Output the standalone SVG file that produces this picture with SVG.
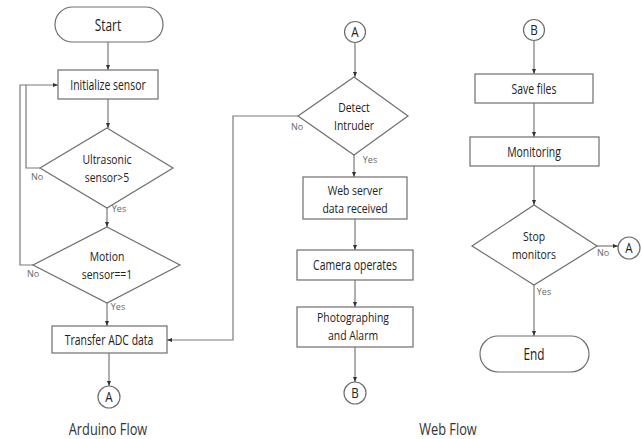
<svg xmlns="http://www.w3.org/2000/svg" width="642" height="439" viewBox="0 0 642 439">
  <style>
    .shape { fill: #ffffff; stroke: #6e6e6e; stroke-width: 1.2; }
    .wire { fill: none; stroke: #7a7a7a; stroke-width: 1.2; }
    .t { font-family: "Open Sans", "Noto Sans", sans-serif; font-size: 14.5px; fill: #222; text-anchor: middle; }
    .t2 { font-family: "Open Sans", "Noto Sans", sans-serif; font-size: 13.5px; fill: #222; text-anchor: middle; }
    .big { font-size: 16px; }
    .small { font-family: "Open Sans", "Noto Sans", sans-serif; font-size: 9px; fill: #666; text-anchor: middle; }
    .cap { font-family: "Open Sans", "Noto Sans", sans-serif; font-size: 16px; fill: #333; text-anchor: middle; }
  </style>
  <defs>
    <marker id="arrow" viewBox="0 0 10 10" refX="10" refY="5" markerWidth="5" markerHeight="5" orient="auto" markerUnits="userSpaceOnUse">
      <path d="M0 1 L10 5 L0 9 Z" fill="#333"/>
    </marker>
  </defs>
  <rect width="642" height="439" fill="#ffffff"/>

  <!-- connectors -->
  <g id="connectors">
    <path class="wire" d="M108 42 V70" marker-end="url(#arrow)"/>
    <path class="wire" d="M108 99 V128" marker-end="url(#arrow)"/>
    <path class="wire" d="M40 168 H26 V85 H58" marker-end="url(#arrow)"/>
    <path class="wire" d="M107 208 V227" marker-end="url(#arrow)"/>
    <path class="wire" d="M33 265 H20 V85 H26"/>
    <path class="wire" d="M107 303 V326" marker-end="url(#arrow)"/>
    <path class="wire" d="M109 353 V386" marker-end="url(#arrow)"/>
    <path class="wire" d="M355 43 V77" marker-end="url(#arrow)"/>
    <path class="wire" d="M298 116 H233 V340 H167" marker-end="url(#arrow)"/>
    <path class="wire" d="M354 155 V177" marker-end="url(#arrow)"/>
    <path class="wire" d="M355 219 V250" marker-end="url(#arrow)"/>
    <path class="wire" d="M355 280 V307" marker-end="url(#arrow)"/>
    <path class="wire" d="M355 347 V382" marker-end="url(#arrow)"/>
    <path class="wire" d="M534 41 V74" marker-end="url(#arrow)"/>
    <path class="wire" d="M534 103 V137" marker-end="url(#arrow)"/>
    <path class="wire" d="M534 166 V205" marker-end="url(#arrow)"/>
    <path class="wire" d="M597 246 H618" marker-end="url(#arrow)"/>
    <path class="wire" d="M534 285 V336" marker-end="url(#arrow)"/>
    <text class="small" x="37" y="180">No</text>
    <text class="small" x="119" y="212">Yes</text>
    <text class="small" x="33" y="277">No</text>
    <text class="small" x="118" y="310">Yes</text>
    <text class="small" x="297" y="130">No</text>
    <text class="small" x="370" y="163">Yes</text>
    <text class="small" x="603" y="256">No</text>
    <text class="small" x="544" y="295">Yes</text>
  </g>

  <!-- Arduino flow -->
  <g id="start">
    <rect class="shape" x="55" y="7" width="108" height="35" rx="17.5"/>
    <text class="t big" transform="translate(108 31) scale(0.74 1)">Start</text>
  </g>
  <g id="init-sensor">
    <rect class="shape" x="58" y="70" width="100" height="29"/>
    <text class="t" transform="translate(108 90) scale(0.72 1)">Initialize sensor</text>
  </g>
  <g id="ultrasonic">
    <polygon class="shape" points="107,128 173,168 107,208 40,168"/>
    <text class="t2" transform="translate(107 164) scale(0.77 1)"><tspan x="0">Ultrasonic</tspan><tspan x="0" dy="18.5">sensor&gt;5</tspan></text>
  </g>
  <g id="motion">
    <polygon class="shape" points="107,227 180,265 107,303 33,265"/>
    <text class="t2" transform="translate(107 261) scale(0.77 1)"><tspan x="0">Motion</tspan><tspan x="0" dy="18.5">sensor==1</tspan></text>
  </g>
  <g id="transfer-adc">
    <rect class="shape" x="52" y="326" width="115" height="27"/>
    <text class="t" transform="translate(109 345) scale(0.72 1)">Transfer ADC data</text>
  </g>
  <g id="connector-a-out">
    <circle class="shape" cx="109" cy="397" r="11"/>
    <text class="t" transform="translate(109 402) scale(0.8 1)">A</text>
  </g>
  <text id="arduino-caption" class="cap" transform="translate(108 435) scale(0.8 1)">Arduino Flow</text>

  <!-- Web flow, first column -->
  <g id="connector-a-in">
    <circle class="shape" cx="355" cy="32" r="10.5"/>
    <text class="t" transform="translate(355 37) scale(0.8 1)">A</text>
  </g>
  <g id="detect-intruder">
    <polygon class="shape" points="354,77 408,116 354,155 298,116"/>
    <text class="t2" transform="translate(354 112) scale(0.77 1)"><tspan x="0">Detect</tspan><tspan x="0" dy="18.5">Intruder</tspan></text>
  </g>
  <g id="web-server">
    <rect class="shape" x="303" y="177" width="104" height="42"/>
    <text class="t2" transform="translate(355 195) scale(0.77 1)"><tspan x="0">Web server</tspan><tspan x="0" dy="18.5">data received</tspan></text>
  </g>
  <g id="camera">
    <rect class="shape" x="297" y="250" width="116" height="30"/>
    <text class="t" transform="translate(355 270) scale(0.72 1)">Camera operates</text>
  </g>
  <g id="photo-alarm">
    <rect class="shape" x="297" y="307" width="116" height="40"/>
    <text class="t2" transform="translate(353 322) scale(0.77 1)"><tspan x="0">Photographing</tspan><tspan x="0" dy="18.5">and Alarm</tspan></text>
  </g>
  <g id="connector-b-out">
    <circle class="shape" cx="355" cy="393" r="11"/>
    <text class="t" transform="translate(355 398) scale(0.8 1)">B</text>
  </g>
  <text id="web-caption" class="cap" transform="translate(448 435) scale(0.8 1)">Web Flow</text>

  <!-- Web flow, second column -->
  <g id="connector-b-in">
    <circle class="shape" cx="534" cy="30" r="10.5"/>
    <text class="t" transform="translate(534 35) scale(0.8 1)">B</text>
  </g>
  <g id="save-files">
    <rect class="shape" x="475" y="74" width="118" height="29"/>
    <text class="t" transform="translate(534 94) scale(0.72 1)">Save files</text>
  </g>
  <g id="monitoring">
    <rect class="shape" x="470" y="137" width="129" height="29"/>
    <text class="t" transform="translate(534 157) scale(0.72 1)">Monitoring</text>
  </g>
  <g id="stop-monitors">
    <polygon class="shape" points="534,205 597,246 534,285 472,246"/>
    <text class="t2" transform="translate(534 241) scale(0.77 1)"><tspan x="0">Stop</tspan><tspan x="0" dy="18.5">monitors</tspan></text>
  </g>
  <g id="connector-a-loop">
    <circle class="shape" cx="629" cy="248" r="11"/>
    <text class="t" transform="translate(629 253) scale(0.8 1)">A</text>
  </g>
  <g id="end">
    <rect class="shape" x="480" y="336" width="109" height="36" rx="18"/>
    <text class="t big" transform="translate(534 360) scale(0.74 1)">End</text>
  </g>
</svg>
